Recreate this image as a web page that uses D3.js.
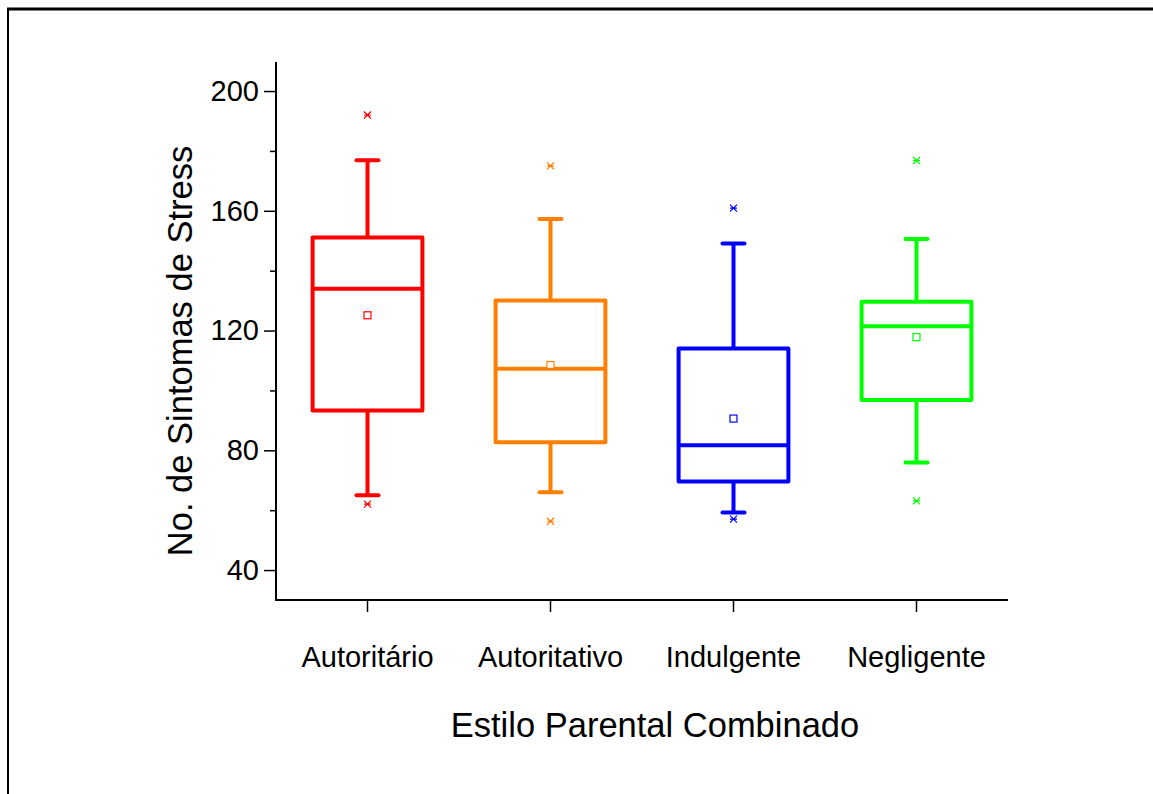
<!DOCTYPE html>
<html>
<head>
<meta charset="utf-8">
<script src="https://cdn.jsdelivr.net/npm/d3@7"></script>
<style>
  body { margin: 0; background: #fff; }
  text { font-family: "Liberation Sans", Arial, sans-serif; fill: #000; }
</style>
</head>
<body>
<div class="chart"></div>
<script>
// data
var categories = ["Autoritário", "Autoritativo", "Indulgente", "Negligente"];
var colors = ["#ff0000", "#ff8000", "#0000ff", "#00ff00"];
var q1 = [93.3, 82.7, 69.6, 96.8];
var medians = [134, 107.2, 81.7, 121.4];
var q3 = [151.1, 130, 114, 129.6];
var whiskLow = [65, 66, 59.2, 75.9];
var whiskHigh = [176.9, 157.3, 149.1, 150.6];
var means = [125.1, 108.5, 90.6, 117.8];
var outMin = [62, 56.3, 57, 63.1];
var outMax = [192, 175, 160.9, 176.8];
var majorTicks = [40, 80, 120, 160, 200];
var minorTicks = [60, 100, 140, 180];

var svgWidth = 1153;
var svgHeight = 794;

var svg = d3.select(".chart")
  .append("svg")
  .attr("width", svgWidth)
  .attr("height", svgHeight);

// page frame (top + left edges only)
svg.append("line")
  .attr("x1", 7).attr("x2", svgWidth).attr("y1", 9).attr("y2", 9)
  .attr("stroke", "#000").attr("stroke-width", 3);
svg.append("line")
  .attr("x1", 8).attr("x2", 8).attr("y1", 8).attr("y2", svgHeight)
  .attr("stroke", "#000").attr("stroke-width", 2);

var plotLeft = 276, plotRight = 1008, plotTop = 62, plotBottom = 600;

var x = d3.scaleBand()
  .domain(categories)
  .range([plotLeft, plotRight]);

var y = d3.scaleLinear()
  .domain([30, 209.7])
  .range([plotBottom, plotTop]);

var boxW = x.step() * 0.6;
var capW = 22;

// y axis
var yAxis = svg.append("g")
  .attr("transform", `translate(${plotLeft},0)`)
  .call(d3.axisLeft(y).tickValues(majorTicks).tickSize(12).tickPadding(5).tickSizeOuter(0));
yAxis.select(".domain").remove();
yAxis.selectAll("line").attr("stroke-width", 1.5);
yAxis.selectAll("text").attr("font-size", 29).attr("font-family", "Liberation Sans, Arial, sans-serif");

var yMinor = svg.append("g")
  .attr("transform", `translate(${plotLeft},0)`)
  .call(d3.axisLeft(y).tickValues(minorTicks).tickSize(6).tickFormat(""));
yMinor.select(".domain").remove();
yMinor.selectAll("line").attr("stroke-width", 1.5);

// x axis
var xAxis = svg.append("g")
  .attr("transform", `translate(0,${plotBottom})`)
  .call(d3.axisBottom(x).tickSize(12).tickPadding(34).tickSizeOuter(0));
xAxis.select(".domain").remove();
xAxis.selectAll("line").attr("stroke-width", 1.5);
xAxis.selectAll("text").attr("font-size", 29).attr("dy", "0.71em").attr("font-family", "Liberation Sans, Arial, sans-serif");

// axis lines
svg.append("path")
  .attr("d", `M${plotLeft},${plotTop}V${plotBottom}H${plotRight}`)
  .attr("fill", "none")
  .attr("stroke", "#000")
  .attr("stroke-width", 2);

// titles
svg.append("text")
  .attr("x", 655)
  .attr("y", 737)
  .attr("text-anchor", "middle")
  .attr("font-size", 34.5)
  .text("Estilo Parental Combinado");

svg.append("text")
  .attr("transform", "translate(192,351) rotate(-90)")
  .attr("text-anchor", "middle")
  .attr("font-size", 34.5)
  .text("No. de Sintomas de Stress");

// boxes
var groups = svg.selectAll(".box")
  .data(categories)
  .enter().append("g")
  .attr("class", "box")
  .attr("stroke", (d, i) => colors[i])
  .attr("fill", "none");

groups.each(function (d, i) {
  var g = d3.select(this);
  var cx = x(d) + x.bandwidth() / 2;

  // whiskers
  g.append("line")
    .attr("x1", cx).attr("x2", cx)
    .attr("y1", y(q3[i])).attr("y2", y(whiskHigh[i]))
    .attr("stroke-width", 4);
  g.append("line")
    .attr("x1", cx).attr("x2", cx)
    .attr("y1", y(q1[i])).attr("y2", y(whiskLow[i]))
    .attr("stroke-width", 4);
  [whiskHigh[i], whiskLow[i]].forEach(function (v) {
    g.append("line")
      .attr("x1", cx - capW / 2).attr("x2", cx + capW / 2)
      .attr("y1", y(v)).attr("y2", y(v))
      .attr("stroke-width", 4)
      .attr("stroke-linecap", "round");
  });

  // box
  g.append("rect")
    .attr("x", cx - boxW / 2)
    .attr("y", y(q3[i]))
    .attr("width", boxW)
    .attr("height", y(q1[i]) - y(q3[i]))
    .attr("stroke-width", 4)
    .attr("stroke-linejoin", "round");

  // median
  g.append("line")
    .attr("x1", cx - boxW / 2).attr("x2", cx + boxW / 2)
    .attr("y1", y(medians[i])).attr("y2", y(medians[i]))
    .attr("stroke-width", 4);

  // mean
  g.append("rect")
    .attr("x", cx - 3.5)
    .attr("y", y(means[i]) - 3.5)
    .attr("width", 7)
    .attr("height", 7)
    .attr("fill", "#fff")
    .attr("stroke-width", 1.2);

  // min / max markers
  [outMax[i], outMin[i]].forEach(function (v) {
    var py = y(v), s = 3.5;
    g.append("path")
      .attr("d", `M${cx - s},${py - s}L${cx + s},${py + s}M${cx - s},${py + s}L${cx + s},${py - s}M${cx - s},${py}H${cx + s}`)
      .attr("stroke-width", 1.2);
  });
});
</script>
</body>
</html>
